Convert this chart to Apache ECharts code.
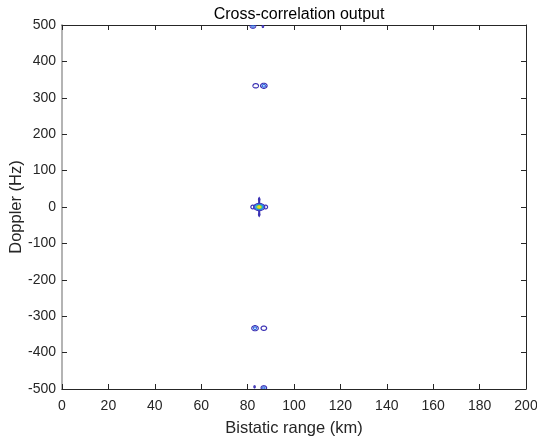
<!DOCTYPE html>
<html><head><meta charset="utf-8">
<script src="https://cdn.jsdelivr.net/npm/echarts@6/dist/echarts.min.js"></script>
<style>html,body{margin:0;padding:0;background:#fff}#c{width:537px;height:441px}</style>
</head><body><div id="c"></div>
<script>
// Contour rings: centre range (km), centre Doppler (Hz), half-width (km), half-height (Hz), contour level
const ringRange   = [85, 85, 85, 82.2, 87.8, 85, 85, 85, 85, 85,
                     83.5, 87, 87, 83.2, 83.2, 87,
                     82.3, 82.3, 86.6, 83, 87, 87];
const ringDoppler = [0, 21, -21, 0, 0, 0, 0, 0, 0, 0,
                     333, 333, 333, -333, -333, -333,
                     497, 497, 496, -494, -497, -497];
const ringRx      = [0.25, 0.3, 0.3, 0.8, 0.8, 2.4, 1.9, 1.4, 0.95, 0.5,
                     1.2, 1.4, 0.7, 1.4, 0.7, 1.2,
                     1.2, 0.5, 0.3, 0.3, 1.2, 0.5];
const ringRy      = [26, 3, 3, 5, 5, 9.5, 7.5, 5.5, 4, 2.5,
                     6, 7, 3.5, 7, 3.5, 6,
                     6, 3, 3, 3, 6, 3];
const ringLevel   = [0, 0, 0, 0, 0, 0, 1, 2, 3, 4,
                     0, 0, 1, 0, 1, 0,
                     0, 1, 0, 0, 0, 1];
const levelColors = ['#3c32b4', '#2f6de6', '#17aed6', '#7cc840', '#f5e01a'];
const xTicks = {min: 0, max: 200, interval: 20};
const yTicks = {min: -500, max: 500, interval: 100};

const data = ringRange.map((r, i) => [r, ringDoppler[i], ringRx[i], ringRy[i], ringLevel[i]]);

const chart = echarts.init(document.getElementById('c'));
const axisCol = '#262626';
const font = 'Liberation Sans, Arial, sans-serif';
chart.setOption({
  animation: false,
  title: {text: 'Cross-correlation output', left: 294, top: 2, textAlign: 'center',
    textStyle: {fontFamily: font, fontSize: 16, fontWeight: 'normal', color: '#000'}},
  grid: {left: 62, right: 11, top: 25, bottom: 52, show: false, outerBoundsMode: 'none', containLabel: false},
  xAxis: [
    {type: 'value', min: xTicks.min, max: xTicks.max, interval: xTicks.interval, position: 'bottom',
     name: 'Bistatic range (km)', nameLocation: 'middle', nameGap: 31, nameMoveOverlap: false,
     nameTextStyle: {fontFamily: font, fontSize: 16.5, color: axisCol},
     axisLine: {onZero: false, lineStyle: {color: axisCol, width: 1}},
     axisTick: {inside: true, length: 5, lineStyle: {color: axisCol}},
     axisLabel: {fontFamily: font, fontSize: 14, color: axisCol, margin: 10},
     splitLine: {show: false}},
    {type: 'value', min: xTicks.min, max: xTicks.max, interval: xTicks.interval, position: 'top',
     axisLine: {onZero: false, lineStyle: {color: axisCol, width: 1}},
     axisTick: {inside: true, length: 5, lineStyle: {color: axisCol}},
     axisLabel: {show: false}, splitLine: {show: false}}
  ],
  yAxis: [
    {type: 'value', min: yTicks.min, max: yTicks.max, interval: yTicks.interval, position: 'left',
     name: 'Doppler (Hz)', nameLocation: 'middle', nameGap: 37, nameRotate: 90, nameMoveOverlap: false,
     nameTextStyle: {fontFamily: font, fontSize: 16.5, color: axisCol},
     axisLine: {onZero: false, lineStyle: {color: '#b4b4b4', width: 2}},
     axisTick: {inside: true, length: 5, lineStyle: {color: axisCol}},
     axisLabel: {fontFamily: font, fontSize: 14, color: axisCol, margin: 6},
     splitLine: {show: false}},
    {type: 'value', min: yTicks.min, max: yTicks.max, interval: yTicks.interval, position: 'right',
     axisLine: {onZero: false, lineStyle: {color: axisCol, width: 1}},
     axisTick: {inside: true, length: 5, lineStyle: {color: axisCol}},
     axisLabel: {show: false}, splitLine: {show: false}}
  ],
  series: [{
    type: 'custom', xAxisIndex: 0, yAxisIndex: 0, clip: true,
    data: data,
    renderItem: function (params, api) {
      const c = api.coord([api.value(0), api.value(1)]);
      const s = api.size([api.value(2), api.value(3)]);
      const lvl = api.value(4);
      const pts = [];
      for (let i = 0; i < 40; i++) {
        const t = i / 40 * Math.PI * 2;
        pts.push([c[0] + s[0] * Math.cos(t), c[1] + s[1] * Math.sin(t)]);
      }
      return {type: 'polygon', shape: {points: pts},
        style: {fill: lvl === 4 ? levelColors[4] : 'none', stroke: levelColors[lvl], lineWidth: 1.2}};
    }
  }]
});
</script></body></html>
